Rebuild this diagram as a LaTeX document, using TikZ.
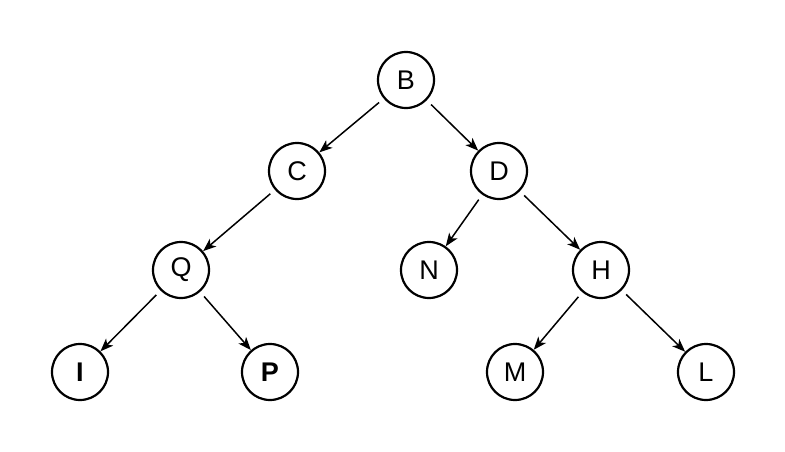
\documentclass[tikz,border=0pt]{standalone}
\usepackage{fontspec}
\setmainfont{Liberation Sans}
\usetikzlibrary{arrows.meta}
\tikzset{
  vert/.style={draw=black,circle,line width=2.2pt,minimum size=56pt,inner sep=0pt,font=\fontsize{27}{27}\selectfont},
  edge/.style={line width=1.5pt,shorten <=6pt,-{Stealth[length=13pt,width=10pt,inset=3.5pt]}}
}
\begin{document}
\begin{tikzpicture}[x=1pt,y=-1pt]
\useasboundingbox (0,0) rectangle (785,452);
\node[vert] (b) at (406,80){B};
\node[vert] (c) at (297,171){C};
\node[vert] (d) at (499,171){D};
\node[vert] (q) at (181,270){Q};
\node[vert] (n) at (429,270){N};
\node[vert] (h) at (601,270){H};
\node[vert] (i) at (80,372){\bfseries I};
\node[vert] (p) at (270,372){\bfseries P};
\node[vert] (m) at (515,372){M};
\node[vert] (l) at (706,372){L};
\draw[edge] (b)--(c);
\draw[edge] (b)--(d);
\draw[edge] (c)--(q);
\draw[edge] (d)--(n);
\draw[edge] (d)--(h);
\draw[edge] (q)--(i);
\draw[edge] (q)--(p);
\draw[edge] (h)--(m);
\draw[edge] (h)--(l);
\end{tikzpicture}
\end{document}
